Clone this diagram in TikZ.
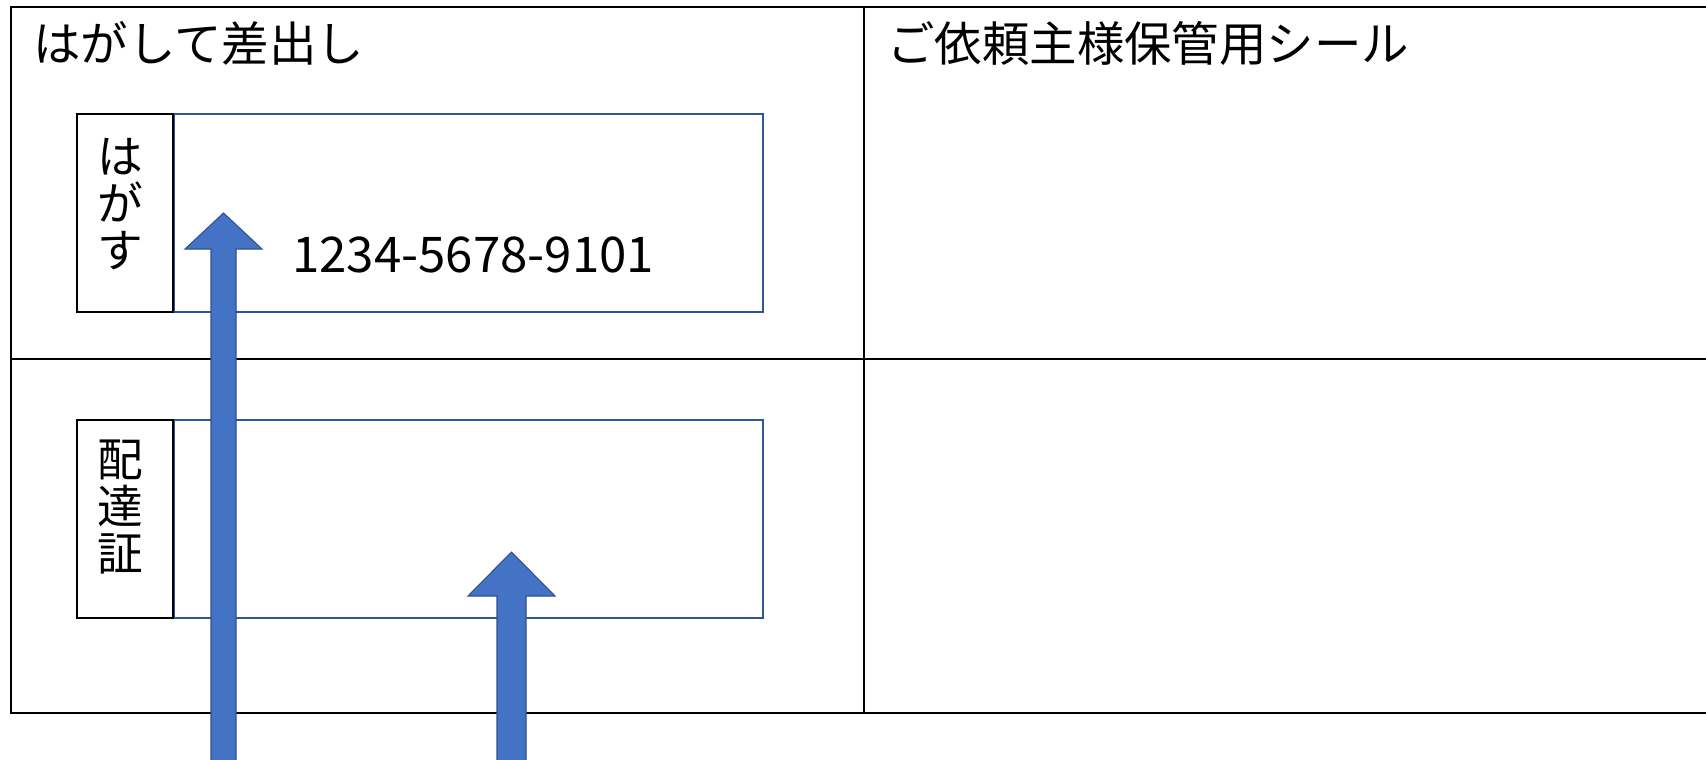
\documentclass[tikz,border=0pt]{standalone}
\usepackage{fontspec}
\setmainfont{Noto Sans CJK JP}
\usepackage{xcolor}
\usetikzlibrary{positioning}
\definecolor{officeblue}{HTML}{4472C4}
\definecolor{arrowedge}{HTML}{2F528F}
\definecolor{stickeredge}{HTML}{2F5597}

\begin{document}
\begin{tikzpicture}[
    x=0.02cm, y=-0.02cm,
    node distance=0pt,
    grid/.style={draw, line width=1.25pt},
    tab/.style={rectangle, draw, line width=0.6pt, minimum width=1.92cm, minimum height=3.96cm, inner sep=0pt},
    sticker/.style={rectangle, draw=stickeredge, line width=1pt, minimum width=11.78cm, minimum height=3.96cm, inner sep=0pt},
    heading/.style={anchor=west, inner sep=0pt, font=\fontsize{27}{32}\selectfont},
    vlabel/.style={align=center, inner sep=0pt, font=\fontsize{26}{26.7}\selectfont},
    blockarrow/.style={fill=officeblue, draw=arrowedge, line width=0.6pt}
]
    \useasboundingbox (0,0) rectangle (1706,760);
    \clip (0,0) rectangle (1706,760);

    % Table
    \draw[grid] (1720,7) -- (11,7) -- (11,713) -- (1720,713);
    \draw[grid] (11,359) -- (1720,359);
    \draw[grid] (864,7) -- (864,713);

    % Headings
    \node[heading] (peeloff) at (33,43) {はがして差出し};
    \node[heading] (keepseal) at (887,43) {ご依頼主様保管用シール};

    % Stickers
    \node[tab] (peel) at (125,213) {};
    \node[sticker, right=of peel] (number) {};
    \node[tab] (proof) at (125,519) {};
    \node[sticker, right=of proof] (proofsticker) {};

    % Labels
    \node[vlabel] (peeltext) at (120,204) {は\\が\\す};
    \node[vlabel] (prooftext) at (120,507) {配\\達\\証};
    \node[anchor=west, inner sep=0pt, font=\fontsize{28}{33}\selectfont] (code) at (292,255) {1234-5678-9101};

    % Arrows
    \coordinate (tipA) at (223.5,213);
    \coordinate (tipB) at (511.5,552);
    \draw[blockarrow] (tipA) -- ++(38.5,36) -- ++(-26,0) -- ++(0,530) -- ++(-25,0)
        -- ++(0,-530) -- ++(-26,0) -- cycle;
    \draw[blockarrow] (tipB) -- ++(43.5,44) -- ++(-29,0) -- ++(0,180) -- ++(-29,0)
        -- ++(0,-180) -- ++(-29,0) -- cycle;
\end{tikzpicture}
\end{document}
